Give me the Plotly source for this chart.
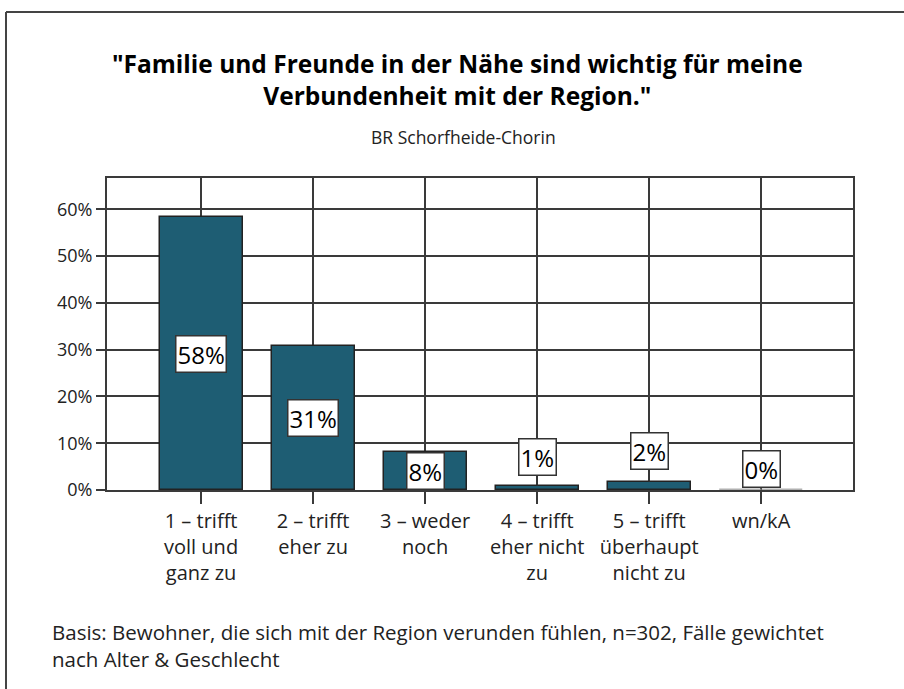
import plotly.graph_objects as go

categories = ["1 – trifft<br>voll und<br>ganz zu", "2 – trifft<br>eher zu", "3 – weder<br>noch",
              "4 – trifft<br>eher nicht<br>zu", "5 – trifft<br>überhaupt<br>nicht zu", "wn/kA"]
values = [58.3, 30.8, 8.1, 0.9, 1.7, 0.0]
value_labels = ["58%", "31%", "8%", "1%", "2%", "0%"]
y_ticks = [0, 10, 20, 30, 40, 50, 60]
y_tick_labels = ["0%", "10%", "20%", "30%", "40%", "50%", "60%"]

title_lines = ['"Familie und Freunde in der Nähe sind wichtig für meine', 'Verbundenheit mit der Region."']
subtitle_text = "BR Schorfheide-Chorin"
footnote_lines = ["Basis: Bewohner, die sich mit der Region verunden fühlen, n=302, Fälle gewichtet",
                  "nach Alter & Geschlecht"]

FONT = "Open Sans"
BAR = "#1e5d73"
LINE = "#3a3a3a"

# pixel offsets of value boxes for very small bars (style only)
small_label_shift = {3: -29, 4: -31, 5: -21}

W, H = 904, 689
ml, mr, mt, mb = 107, 51, 178, 199
pw, ph = W - ml - mr, H - mt - mb

def paper_x(xpx):
    return (xpx - ml) / pw

def paper_y(ypx):
    return (H - mb - ypx) / ph

xs = list(range(len(categories)))
outline_colors = ["#222222" if v > 0 else "#b0b0b0" for v in values]

fig = go.Figure()
fig.add_trace(go.Bar(
    x=xs, y=values, width=0.74,
    marker=dict(color=BAR, line=dict(color=outline_colors, width=1.5)),
    hoverinfo="skip",
))

for i, (v, lab) in enumerate(zip(values, value_labels)):
    common = dict(x=i, xref="x", yref="y", text=lab,
                  font=dict(family=FONT, size=24, color="#000000"),
                  bgcolor="white", bordercolor="#333333", borderwidth=1.5, borderpad=1)
    if i in small_label_shift:
        fig.add_annotation(y=v, showarrow=True, ax=0, ay=small_label_shift[i],
                           arrowhead=0, arrowwidth=1, arrowcolor="#333333",
                           standoff=0, **common)
    else:
        fig.add_annotation(y=v / 2, showarrow=False, **common)

fig.add_annotation(x=paper_x(457), y=paper_y(79), xref="paper", yref="paper",
                   text="<b>" + "<br>".join(title_lines) + "</b>", showarrow=False,
                   xanchor="center", yanchor="middle", align="center",
                   font=dict(family=FONT, size=24.5, color="#000000"))
fig.add_annotation(x=paper_x(463), y=paper_y(137), xref="paper", yref="paper",
                   text=subtitle_text, showarrow=False, xanchor="center", yanchor="middle",
                   font=dict(family=FONT, size=17.5, color="#222222"))
fig.add_annotation(x=paper_x(50), y=paper_y(645), xref="paper", yref="paper",
                   text="<br>".join(footnote_lines), showarrow=False,
                   xanchor="left", yanchor="middle", align="left",
                   font=dict(family=FONT, size=20.5, color="#222222"))

# outer frame (top and left only)
fig.add_shape(type="line", xref="paper", yref="paper", x0=paper_x(6), x1=paper_x(904),
              y0=paper_y(12), y1=paper_y(12), line=dict(color="#444444", width=2))
fig.add_shape(type="line", xref="paper", yref="paper", x0=paper_x(6), x1=paper_x(6),
              y0=paper_y(12), y1=paper_y(689), line=dict(color="#444444", width=2))

fig.update_layout(
    width=W, height=H,
    margin=dict(l=ml, r=mr, t=mt, b=mb),
    paper_bgcolor="white", plot_bgcolor="white",
    showlegend=False,
    bargap=0,
    font=dict(family=FONT, color="#222222"),
)
fig.update_xaxes(
    tickmode="array", tickvals=xs, ticktext=categories,
    range=[-0.84, 5.82],
    showgrid=True, gridcolor=LINE, gridwidth=1.5,
    ticks="outside", ticklen=12, tickcolor=LINE, tickwidth=1.5,
    showline=True, linecolor=LINE, linewidth=2, mirror=True,
    tickfont=dict(family=FONT, size=20, color="#222222"),
    zeroline=False,
)
fig.update_yaxes(
    tickmode="array", tickvals=y_ticks, ticktext=y_tick_labels,
    range=[0, 66.7],
    showgrid=True, gridcolor=LINE, gridwidth=1.5,
    ticks="outside", ticklen=9, tickcolor=LINE, tickwidth=1.5,
    showline=True, linecolor=LINE, linewidth=2, mirror=True,
    tickfont=dict(family=FONT, size=18, color="#222222"),
    zeroline=False,
)

fig.write_html("out.html", config={"displayModeBar": False},
               post_script="document.body.style.margin='0px';")
